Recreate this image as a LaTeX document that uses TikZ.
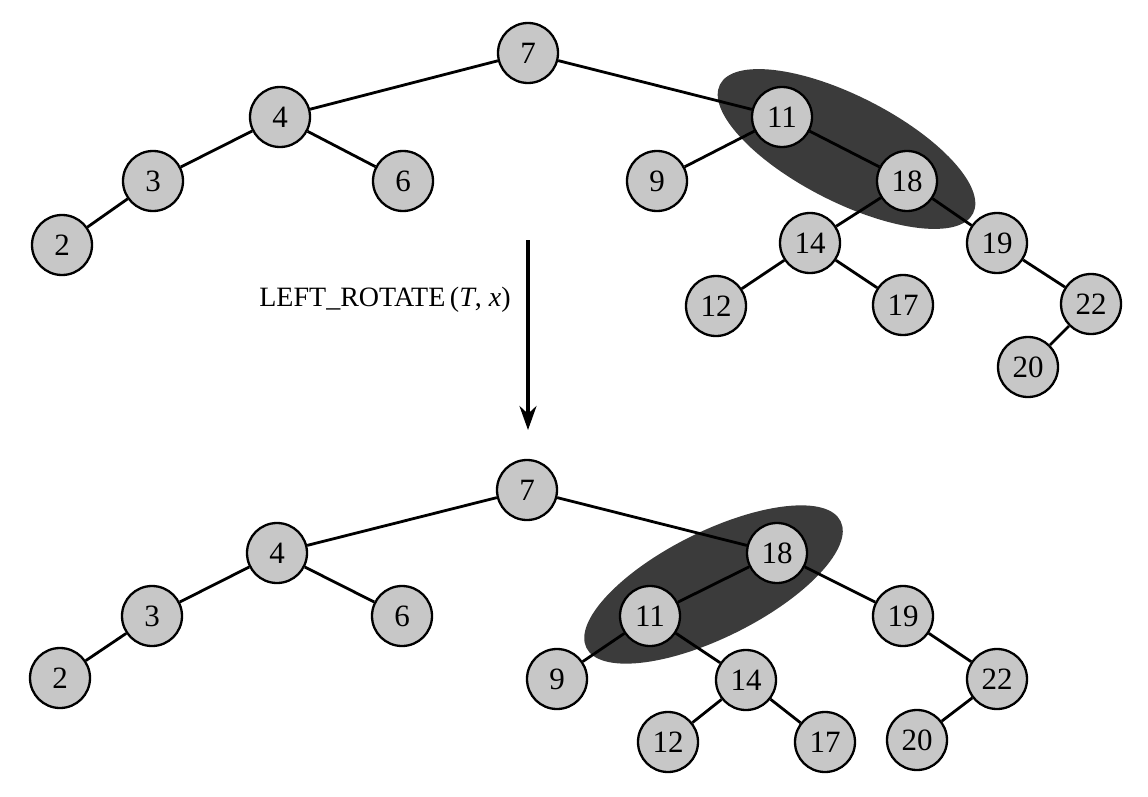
\documentclass[tikz,border=0pt]{standalone}
\usepackage{fontspec}
\setmainfont{Liberation Serif}
\usetikzlibrary{shapes.geometric,calc,arrows.meta,backgrounds}
\begin{document}
\begin{tikzpicture}[x=1pt,y=-1pt,
  key/.style={circle,draw=black,line width=2.3pt,fill=black!22,minimum size=60pt,inner sep=0pt,font=\fontsize{31}{31}\selectfont},
  edge/.style={draw=black,line width=2.8pt},
  blob/.style={ellipse,fill=black!77,draw=none,minimum width=284pt,minimum height=106pt,inner sep=0pt},
  flow/.style={line width=3.2pt,-{Stealth[length=24pt,width=17pt]}},
  lbl/.style={font=\fontsize{28}{30}\selectfont}]
\useasboundingbox (0,0) rectangle (1148,797);
% ---------- top tree ----------
\node[key] (t7) at (528,53) {7};
\node[key] (t4) at (280,117) {4};
\node[key] (t3) at (153,181) {3};
\node[key] (t6) at (403,181) {6};
\node[key] (t2) at (62,245) {2};
\node[key] (t11) at (782,117) {11};
\node[key] (t9) at (657,181) {9};
\node[key] (t18) at (907,181) {18};
\node[key] (t14) at (810,243) {14};
\node[key] (t19) at (997,243) {19};
\node[key] (t12) at (716,306) {12};
\node[key] (t17) at (903,305) {17};
\node[key] (t22) at (1091,304) {22};
\node[key] (t20) at (1028,367) {20};
\begin{scope}[on background layer]
\node[blob,rotate=-27] (te) at ($(t11)!0.5!(t18)+(2,0)$) {};
\end{scope}
\draw[edge] (t7) -- (t4);
\draw[edge] (t7) -- (t11);
\draw[edge] (t4) -- (t3);
\draw[edge] (t4) -- (t6);
\draw[edge] (t3) -- (t2);
\draw[edge] (t11) -- (t9);
\draw[edge] (t11) -- (t18);
\draw[edge] (t18) -- (t14);
\draw[edge] (t18) -- (t19);
\draw[edge] (t14) -- (t12);
\draw[edge] (t14) -- (t17);
\draw[edge] (t19) -- (t22);
\draw[edge] (t22) -- (t20);
% ---------- arrow ----------
\coordinate (as) at (528,240);
\coordinate (ae) at (528,430);
\draw[flow] (as) -- (ae);
\node[lbl] (op) at (385,300) {LEFT\_ROTATE\,(\textit{T}, \textit{x})};
% ---------- bottom tree ----------
\node[key] (b7) at (527,490) {7};
\node[key] (b4) at (277,553) {4};
\node[key] (b3) at (152,616) {3};
\node[key] (b6) at (402,616) {6};
\node[key] (b2) at (60,678) {2};
\node[key] (b18) at (777,553) {18};
\node[key] (b11) at (650,616) {11};
\node[key] (b19) at (903,616) {19};
\node[key] (b9) at (557,679) {9};
\node[key] (b14) at (746,680) {14};
\node[key] (b22) at (997,679) {22};
\node[key] (b12) at (668,742) {12};
\node[key] (b17) at (825,742) {17};
\node[key] (b20) at (917,740) {20};
\begin{scope}[on background layer]
\node[blob,rotate=26.5] (be) at ($(b11)!0.5!(b18)$) {};
\end{scope}
\draw[edge] (b7) -- (b4);
\draw[edge] (b7) -- (b18);
\draw[edge] (b4) -- (b3);
\draw[edge] (b4) -- (b6);
\draw[edge] (b3) -- (b2);
\draw[edge] (b18) -- (b11);
\draw[edge] (b18) -- (b19);
\draw[edge] (b11) -- (b9);
\draw[edge] (b11) -- (b14);
\draw[edge] (b14) -- (b12);
\draw[edge] (b14) -- (b17);
\draw[edge] (b19) -- (b22);
\draw[edge] (b22) -- (b20);
\end{tikzpicture}
\end{document}
